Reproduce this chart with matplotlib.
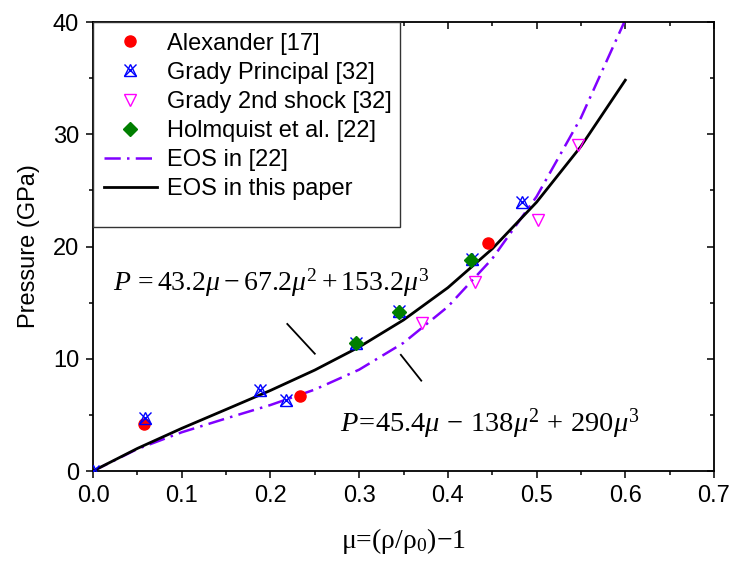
"""
Hugoniot data for the ceramic vs. the two cubic EOS fits.
"""

import matplotlib

matplotlib.use("Agg")
import matplotlib.pyplot as plt
from matplotlib.lines import Line2D
from matplotlib.patches import Rectangle
from matplotlib.legend_handler import HandlerTuple
from matplotlib.ticker import MultipleLocator

plt.rcParams["font.family"] = ["Liberation Sans", "DejaVu Sans"]
plt.rcParams["mathtext.fontset"] = "custom"
plt.rcParams["mathtext.rm"] = "Liberation Serif"
plt.rcParams["mathtext.it"] = "Liberation Serif:italic"

# ── data ─────────────────────────────────────────────────────────────────────

alex_mu = [0.057, 0.233, 0.445]
alex_p = [4.2, 6.7, 20.3]

grady_mu = [0.0, 0.059, 0.188, 0.218, 0.297, 0.345, 0.427, 0.484]
grady_p = [0.0, 4.7, 7.2, 6.3, 11.4, 14.3, 18.9, 24.0]

grady2_mu = [0.371, 0.431, 0.502, 0.547]
grady2_p = [13.2, 16.8, 22.4, 29.0]

holm_mu = [0.297, 0.345, 0.426]
holm_p = [11.4, 14.2, 18.8]

# cubic fit coefficients  P = k1*mu + k2*mu^2 + k3*mu^3
eos22_k = [45.4, -138.0, 290.0]
eos_paper_k = [43.2, -67.2, 153.2]
curve_mu = [0.0, 0.05, 0.10, 0.15, 0.20, 0.25, 0.30, 0.35, 0.40, 0.45, 0.50, 0.55, 0.60]


def cubic(k, mu):
    return [k[0] * m + k[1] * m**2 + k[2] * m**3 for m in mu]


# ── figure ───────────────────────────────────────────────────────────────────

fig = plt.figure(figsize=(7.33, 5.69), dpi=100)
ax = fig.add_axes([0.1269, 0.1722, 0.8472, 0.7891])

ax.plot(curve_mu, cubic(eos22_k, curve_mu), color="#8000ff", lw=1.8,
        dashes=(6.5, 2.5, 1, 2.5), zorder=2)
ax.plot(curve_mu, cubic(eos_paper_k, curve_mu), color="black", lw=2.0, zorder=2)

ax.plot(alex_mu, alex_p, "o", color="red", ms=8, ls="none", zorder=3)
ax.plot(grady_mu, grady_p, "^", mfc="none", mec="blue", mew=1.0, ms=9, ls="none", zorder=3)
ax.plot(grady_mu, grady_p, "x", color="blue", mew=1.0, ms=8, ls="none", zorder=3)
ax.plot(grady2_mu, grady2_p, "v", mfc="none", mec="#ff00ff", mew=1.0, ms=9, ls="none", zorder=3)
ax.plot(holm_mu, holm_p, "D", color="#007f00", ms=7.5, ls="none", zorder=3)

# pointer strokes from each equation to its curve
ax.plot([0.219, 0.250], [13.1, 10.45], color="black", lw=1.3)
ax.plot([0.347, 0.370], [10.35, 8.05], color="black", lw=1.3)

ax.text(0.201, 16.8, r"$P\,=43.2\mu - 67.2\mu^2 + 153.2\mu^3$",
        fontsize=20, ha="center", va="center")
ax.text(0.4475, 4.25, r"$P\!=\!45.4\mu\,-\,138\mu^2\,+\,290\mu^3$",
        fontsize=20.5, ha="center", va="center")

ax.set_xlim(0, 0.7)
ax.set_ylim(0, 40)
ax.xaxis.set_major_locator(MultipleLocator(0.1))
ax.xaxis.set_minor_locator(MultipleLocator(0.05))
ax.yaxis.set_major_locator(MultipleLocator(10))
ax.yaxis.set_minor_locator(MultipleLocator(5))
ax.xaxis.set_major_formatter(lambda v, p: f"{v:.1f}")
ax.yaxis.set_major_formatter(lambda v, p: f"{v:.0f}")

ax.tick_params(which="both", direction="out", width=1.1, labelsize=17)
ax.tick_params(which="major", length=5, pad=5)
ax.tick_params(which="minor", length=3)
ax.tick_params(which="both", top=True, right=True)
for spine in ax.spines.values():
    spine.set_linewidth(1.3)

# mirrored ticks on top/right point inward
for t in ax.xaxis.get_major_ticks() + ax.xaxis.get_minor_ticks():
    t.tick2line.set_marker(3)
for t in ax.yaxis.get_major_ticks() + ax.yaxis.get_minor_ticks():
    t.tick2line.set_marker(0)

ax.set_ylabel("Pressure (GPa)", fontsize=17, labelpad=9)
ax.set_xlabel("μ=(ρ/ρ$_0$)−1", fontsize=20, family="Liberation Serif", labelpad=14)

# ── legend ───────────────────────────────────────────────────────────────────

box = Rectangle((0, 0.543), 0.494, 0.457, transform=ax.transAxes,
                facecolor="white", edgecolor="#333333", lw=1.0, zorder=4)
ax.add_patch(box)

h_alex = Line2D([], [], marker="o", color="red", ms=8, ls="none")
h_grady = (Line2D([], [], marker="^", mfc="none", mec="blue", mew=1.0, ms=9, ls="none"),
           Line2D([], [], marker="x", color="blue", mew=1.0, ms=8, ls="none"))
h_grady2 = Line2D([], [], marker="v", mfc="none", mec="#ff00ff", mew=1.0, ms=9, ls="none")
h_holm = Line2D([], [], marker="D", color="#007f00", ms=7.5, ls="none")
h_eos22 = Line2D([], [], color="#8000ff", lw=1.8, dashes=(6.5, 2.5, 1, 2.5))
h_paper = Line2D([], [], color="black", lw=2.0)

leg = ax.legend(
    [h_alex, h_grady, h_grady2, h_holm, h_eos22, h_paper],
    ["Alexander [17]", "Grady Principal [32]", "Grady 2nd shock [32]",
     "Holmquist et al. [22]", "EOS in [22]", "EOS in this paper"],
    handler_map={tuple: HandlerTuple(ndivide=1)},
    loc="upper left",
    bbox_to_anchor=(0.0, 1.0),
    frameon=False,
    fontsize=17,
    handlelength=2.25,
    handletextpad=0.45,
    labelspacing=0.3,
    borderaxespad=0.2,
    borderpad=0.25,
)
leg.set_zorder(5)

fig.savefig("out.png", dpi=100)
